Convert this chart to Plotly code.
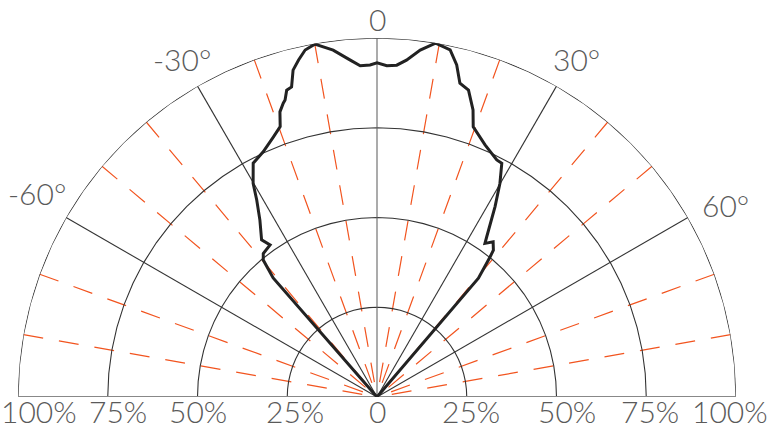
import numpy as np
import plotly.graph_objects as go

# ---- data: luminous intensity distribution (angle in degrees, relative intensity %) ----
curve_theta = [-41, -41.1, -39.7, -38.4, -35.1, -36.3, -33.5, -31.4, -30.1, -27.9,
               -24.9, -21.7, -19.7, -18.8, -17.7, -17.2, -16.4, -15.4, -14.4, -13.1,
               -11.7, -10.0, -7.2, -4.6, -2.9, -1.2, 0, 1.7, 3.4, 5.0,
               7.1, 9.4, 11.9, 13.5, 14.8, 16.6, 18.5, 19.6, 23.2, 26.8,
               28.1, 29.9, 31.8, 34.4, 35.1, 36.8, 38.4, 38.9, 40.5, 41]
curve_r = [0, 44, 49.6, 51, 51.8, 54.3, 59.1, 64.3, 68.8, 73.7,
           75.3, 78, 80, 83.9, 85.9, 86.6, 89.1, 89.6, 94, 96.4,
           98.7, 99.8, 97.4, 94.2, 92.4, 92.5, 93.1, 92.3, 92.6, 94.2,
           97.4, 99.9, 98.8, 95.1, 90.4, 89.2, 84.3, 79.9, 76.4, 74,
           73.8, 68.7, 62.4, 54.1, 52.3, 54, 52.2, 50.2, 43.5, 0]

ring_values = [25, 50, 75, 100]
major_angles = [-60, -30, 30, 60]
minor_angles = [-80, -70, -50, -40, -20, -10, 10, 20, 40, 50, 70, 80]

angle_labels = ["-30°", "30°", "-60°", "60°"]
top_label = "0"
radial_labels = ["100%", "75%", "50%", "25%", "0", "25%", "50%", "75%", "100%"]

# ---- layout geometry (pixels) ----
W, H = 769, 430
CX, CY, RPX = 377, 397, 359          # pole position and outer radius in pixels
U = RPX / 100.0                      # pixels per % unit
X_MIN, X_MAX = -CX / U, (W - CX) / U
Y_MIN, Y_MAX = -(H - CY) / U, CY / U

# label positions in the hidden cartesian frame (same units as %)
angle_label_pos = [(-54.3, 94.2), (55.7, 94.2), (-94.7, 56.8), (97.2, 53.5)]
radial_label_x = [X_MIN, -72.1, -49.9, -22.8, 0, 26.2, 52.9, 76.0, X_MAX]
radial_label_anchor = ["left"] + ["center"] * 7 + ["right"]

LINE = "#333333"
RED = "#f2541f"
TEXT = "#5a5a5a"
FONT = "Lato, Liberation Sans, sans-serif"
TFONT = dict(family=FONT, size=30, color=TEXT, weight=300)

fig = go.Figure()

# red dashed minor spokes
for a in minor_angles:
    fig.add_trace(go.Scatterpolar(r=[100, 0], theta=[a, a], mode="lines",
                                  line=dict(color=RED, width=1.2, dash="20px,16px"),
                                  hoverinfo="skip", showlegend=False))

# rings (polygonal)
ring_theta = np.arange(-90, 90.1, 5)
for rv in ring_values:
    fig.add_trace(go.Scatterpolar(r=[rv] * len(ring_theta), theta=ring_theta, mode="lines",
                                  line=dict(color=LINE, width=1.1),
                                  hoverinfo="skip", showlegend=False))

# black major spokes
for a in major_angles:
    fig.add_trace(go.Scatterpolar(r=[0, 100], theta=[a, a], mode="lines",
                                  line=dict(color=LINE, width=1.1),
                                  hoverinfo="skip", showlegend=False))
fig.add_trace(go.Scatterpolar(r=[0, 100], theta=[0, 0], mode="lines",
                              line=dict(color="#666666", width=1.1),
                              hoverinfo="skip", showlegend=False))
# baseline
fig.add_trace(go.Scatterpolar(r=[100, 0, 100], theta=[-90, -90, 90], mode="lines",
                              line=dict(color="#888888", width=2.2),
                              hoverinfo="skip", showlegend=False))

# distribution curve
fig.add_trace(go.Scatterpolar(r=curve_r, theta=curve_theta, mode="lines",
                              line=dict(color="#222222", width=3),
                              hoverinfo="skip", showlegend=False))

# hidden cartesian frame spanning the whole figure, for labels
fig.add_trace(go.Scatter(x=[None], y=[None], mode="markers", hoverinfo="skip", showlegend=False))

annotations = [dict(x=0, y=Y_MAX, xref="x", yref="y", text=top_label, showarrow=False,
                    font=TFONT, xanchor="center", yanchor="top", borderpad=0)]
for txt, (x, y) in zip(angle_labels, angle_label_pos):
    annotations.append(dict(x=x, y=y, xref="x", yref="y", text=txt, showarrow=False,
                            font=TFONT, xanchor="center", yanchor="middle", borderpad=0))
for txt, x, anc in zip(radial_labels, radial_label_x, radial_label_anchor):
    annotations.append(dict(x=x, y=Y_MIN, xref="x", yref="y", text=txt, showarrow=False,
                            font=TFONT, xanchor=anc, yanchor="bottom", borderpad=0))

fig.update_layout(
    width=W, height=H,
    margin=dict(l=0, r=0, t=0, b=0, autoexpand=False),
    paper_bgcolor="white",
    plot_bgcolor="rgba(0,0,0,0)",
    showlegend=False,
    polar=dict(
        domain=dict(x=[(CX - RPX) / W, (CX + RPX) / W],
                    y=[(H - CY) / H, (H - CY + RPX) / H]),
        sector=[0, 180],
        bgcolor="white",
        radialaxis=dict(range=[0, 100], visible=False, showgrid=False, showline=False),
        angularaxis=dict(rotation=90, direction="clockwise", visible=False,
                         showgrid=False, showline=False, showticklabels=False, ticks=""),
    ),
    xaxis=dict(domain=[0, 1], range=[X_MIN, X_MAX], visible=False, fixedrange=True),
    yaxis=dict(domain=[0, 1], range=[Y_MIN, Y_MAX], visible=False, fixedrange=True),
    annotations=annotations,
)

fig.write_html(
    "out.html",
    config={"displayModeBar": False, "staticPlot": True},
    post_script="document.body.style.margin='0';document.body.style.overflow='hidden';",
)
